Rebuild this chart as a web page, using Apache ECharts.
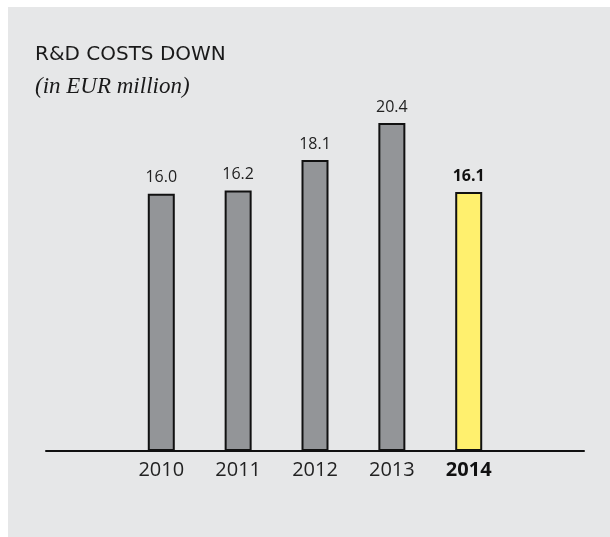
<!DOCTYPE html>
<html>
<head>
<meta charset="utf-8">
<script src="https://cdn.jsdelivr.net/npm/echarts@6/dist/echarts.min.js"></script>
<style>
html,body{margin:0;padding:0;background:#ffffff;}
#chart{width:610px;height:537px;}
</style>
</head>
<body>
<div id="chart"></div>
<script>
const categories = ['', '2010', '2011', '2012', '2013', '2014', ''];
const values = [null, 16.0, 16.2, 18.1, 20.4, 16.1, null];
const highlightYear = '2014';
const titleText = 'R&D COSTS DOWN';
const subtitleText = '(in EUR million)';

const chart = echarts.init(document.getElementById('chart'), null, {renderer: 'canvas'});

const catData = categories.map(c => c === highlightYear
  ? {value: c, textStyle: {fontWeight: 'bold', color: '#111'}}
  : c);

const barData = values.map((v, i) => {
  if (v === null) return '-';
  if (categories[i] === highlightYear) {
    return {value: v, itemStyle: {color: '#fff06e'}, label: {fontWeight: 'bold', color: '#111'}};
  }
  return v;
});

chart.setOption({
  animation: false,
  backgroundColor: '#ffffff',
  graphic: [{
    type: 'rect', z: -10, silent: true,
    shape: {x: 8, y: 7, width: 602, height: 530},
    style: {fill: '#e6e7e8'}
  }],
  title: {
    text: titleText,
    subtext: subtitleText,
    left: 35, top: 45, padding: 0,
    itemGap: 10,
    textStyle: {fontFamily: 'DejaVu Sans', fontSize: 20, fontWeight: 'normal', color: '#1a1a1a'},
    subtextStyle: {fontFamily: 'Liberation Serif', fontStyle: 'italic', fontSize: 23, color: '#1a1a1a'}
  },
  grid: {left: 46, right: 26, top: 49, bottom: 86, containLabel: false},
  xAxis: {
    type: 'category',
    data: catData,
    axisLine: {lineStyle: {color: '#111', width: 2}},
    axisTick: {show: false},
    axisLabel: {fontFamily: 'Open Sans', fontSize: 20, color: '#222', margin: 9}
  },
  yAxis: {
    type: 'value', min: 0, max: 25,
    show: false,
    splitLine: {show: false}
  },
  series: [{
    type: 'bar',
    data: barData,
    barWidth: 27,
    itemStyle: {color: '#939598', borderColor: '#111', borderWidth: 2},
    label: {show: true, position: 'top', distance: 8, fontFamily: 'Open Sans', fontSize: 16,
      color: '#222', formatter: p => Number(p.value).toFixed(1)}
  }]
});
</script>
</body>
</html>
